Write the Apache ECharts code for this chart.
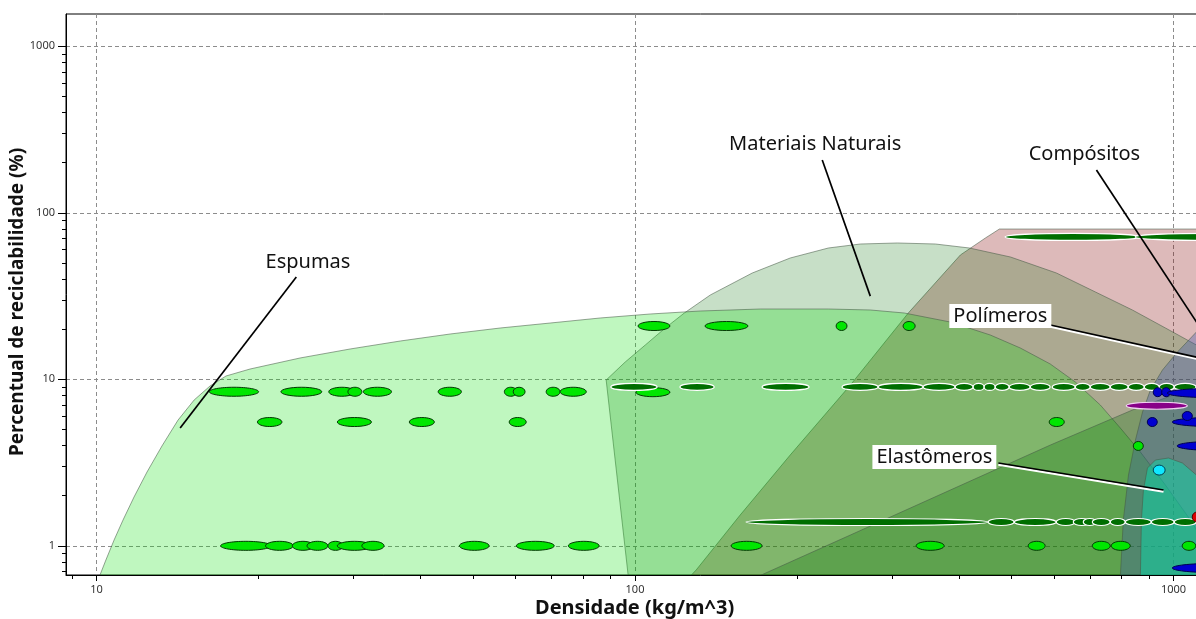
<!DOCTYPE html>
<html>
<head>
<meta charset="utf-8">
<script src="https://cdn.jsdelivr.net/npm/echarts@6/dist/echarts.min.js"></script>
<style>
  html, body { margin: 0; padding: 0; background: #fff; overflow: hidden; width: 1196px; height: 619px; }
  /* the plot area runs on past the right edge of the window */
  #chart { width: 1335px; height: 619px; }
</style>
</head>
<body>
<div id="chart"></div>
<script>
// ---- Axis ranges and ticks (density in kg/m^3, recyclability in %) ----
const densityMin = 8.777;
const densityMax = 1995;
const percentMin = 0.668;
const percentMax = 1563;
const densityTicks = [10, 100, 1000];
const densityMinorTicks = [9, 20, 30, 40, 50, 60, 70, 80, 90, 200, 300, 400, 500, 600, 700, 800, 900];
const percentTicks = [1, 10, 100, 1000];
const percentMinorTicks = [0.7, 0.8, 0.9, 2, 3, 4, 5, 6, 7, 8, 9, 20, 30, 40, 50, 60, 70, 80, 90, 200, 300, 400, 500, 600, 700, 800, 900];

// ---- Family envelopes: outline points [density, percent] ----
const compositosEnvelope = [[117, 0.5], [129.9, 0.716], [156.8, 1.531], [194.2, 3.51], [251.2, 9.24], [321.8, 25.02],
  [402.0, 55.8], [447.5, 70.6], [475.0, 79.9], [2132, 79.9], [2132, 0.5]];
const naturaisEnvelope = [[97.1, 0.5], [97.1, 0.668], [88.4, 9.9], [95.9, 12.7], [104.5, 16.07], [113.8, 20.33],
  [123.5, 25.02], [138.0, 32.09], [165.1, 43.49], [194.2, 53.52], [228.6, 61.46], [262.1, 64.95], [307.1, 65.87],
  [361.3, 64.95], [417.8, 61.46], [498.1, 54.27], [606.3, 43.49], [716.2, 33.45], [838.9, 26.08], [966.3, 20.33],
  [1103, 16.07], [1332, 11.69], [1580, 7.51], [1875, 0.5]];
const espumasEnvelope = [[9.8, 0.5], [10.15, 0.668], [10.41, 0.822], [10.78, 1.083], [11.2, 1.428], [11.74, 1.964],
  [12.41, 2.775], [13.23, 3.977], [14.17, 5.69], [15.18, 7.51], [16.25, 9.12], [17.4, 10.47], [19.28, 11.53],
  [23.88, 13.43], [29.58, 15.21], [36.64, 16.98], [45.37, 18.71], [56.18, 20.33], [69.58, 21.78], [86.16, 23.35],
  [106.7, 24.67], [132.2, 25.72], [170.9, 26.44], [228.6, 26.44], [273.5, 26.08], [316.2, 25.02], [384.9, 22.09],
  [456.8, 18.46], [519.4, 15.42], [590.4, 12.36], [657.3, 9.63], [731.3, 7.01], [796.6, 5.1], [867.9, 3.66],
  [965.8, 2.32], [1075, 1.43], [1196, 0.822], [1303, 0.5]];
const lowerGreenEnvelope = [[160.2, 0.5], [171.6, 0.668], [251.2, 1.161], [385.1, 2.163], [590.7, 4.03],
  [838.9, 6.54], [1122, 9.24], [2132, 9.24], [2132, 0.5]];
const polimerosEnvelope = [[2132, 23.35], [1276, 23.35], [1103, 19.24], [1017, 14.59], [954, 11.37], [906, 8.62],
  [876, 6.36], [850, 4.32], [825, 2.66], [807, 1.43], [797, 0.668], [794, 0.5], [2132, 0.5]];
const elastomerosEnvelope = [[868.1, 0.5], [868.1, 0.668], [871.9, 1.43], [879.4, 2.163], [894.7, 2.934],
  [925.7, 3.276], [978.8, 3.368], [1039, 3.143], [1103, 2.662], [1276, 1.758], [2132, 0.5]];

// ---- Materials: [density low, density high, recyclability %] ----
const espumas = [
  [16.2, 20.0, 8.42], [22.0, 26.2, 8.42], [27.0, 30.2, 8.42], [29.3, 31.1, 8.42], [31.3, 35.3, 8.42],
  [43.1, 47.6, 8.42], [57.2, 60.4, 8.42], [59.4, 62.5, 8.42], [68.4, 72.6, 8.42], [72.6, 81.2, 8.42],
  [19.9, 22.1, 5.54], [28.0, 32.4, 5.54], [38.1, 42.4, 5.54], [58.4, 62.8, 5.54], [587.8, 626.8, 5.54],
  [17.0, 21.1, 1.0], [20.6, 23.2, 1.0], [23.1, 25.3, 1.0], [24.6, 26.9, 1.0], [26.9, 28.7, 1.0],
  [28.0, 32.4, 1.0], [31.1, 34.2, 1.0], [47.2, 53.6, 1.0], [60.2, 70.8, 1.0], [75.2, 85.8, 1.0],
  [150.8, 172.2, 1.0], [332.7, 375.1, 1.0], [537.2, 577.7, 1.0], [706.6, 763.0, 1.0], [766.3, 831.2, 1.0],
  [1038, 1100, 1.0],
  [101.3, 116.1, 20.9], [134.9, 162.1, 20.9], [236.3, 247.6, 20.9], [314.7, 331.3, 20.9],
  [100.4, 116.1, 8.37], [842, 879, 3.98]
];
const naturais = [
  [90.2, 109.9, 9.0], [121.2, 140.3, 9.0], [172.2, 210.5, 9.0],
  [242.4, 282.8, 9.0], [282.8, 342.8, 9.0], [342.8, 393.0, 9.0], [393.0, 424.6, 9.0], [424.6, 445.0, 9.0],
  [445.0, 466.5, 9.0], [466.5, 495.3, 9.0], [495.3, 541.9, 9.0], [541.9, 590.3, 9.0], [595.4, 657.0, 9.0],
  [657.0, 700.4, 9.0], [700.4, 763.0, 9.0], [763.0, 824.0, 9.0], [824.0, 882.5, 9.0], [882.5, 941.0, 9.0],
  [941.0, 1003, 9.0], [1003, 1102, 9.0], [1102, 1250, 9.0],
  [160.8, 452.7, 1.39], [452.7, 506.0, 1.39], [506.0, 605.7, 1.39], [605.7, 657.0, 1.39], [651.4, 700.0, 1.39],
  [679.9, 718.6, 1.39], [706.6, 763.0, 1.39], [763.0, 813.7, 1.39], [813.7, 909.5, 1.39], [909.5, 1003, 1.39],
  [1003, 1102, 1.39], [1102, 1250, 1.39]
];
const compositos = [[486.9, 867.6, 71.6], [849, 1600, 71.6]];
const polimeros = [
  [917, 953, 8.37], [953, 986, 8.37], [974, 1400, 8.27],
  [894, 933, 5.54], [995, 1400, 5.54], [1038, 1084, 6.02],
  [1016, 1400, 3.98], [995, 1400, 0.736]
];
const elastomeros = [[917, 965, 2.85]];
const outrosRoxo = [[817, 1061, 6.94]];
const outrosVermelho = [[1084, 1130, 1.49]];

// ---- Family labels with leader lines (data coordinates) ----
const annotations = [
  { text: 'Espumas', label: [24.7, 50.6], from: [23.5, 41.2], to: [14.3, 5.1], boxed: false },
  { text: 'Materiais Naturais', label: [216.1, 259], from: [222.7, 207.6], to: [273.5, 31.6], boxed: false },
  { text: 'Compósitos', label: [683.4, 225.5], from: [719.3, 180.8], to: [1171, 16.5], boxed: false },
  { text: 'Polímeros', label: [476.9, 24.0], from: [590.7, 21.2], to: [1103, 13.6], boxed: true },
  { text: 'Elastômeros', label: [359.7, 3.415], from: [472.9, 3.143], to: [958.3, 2.163], boxed: true }
];

const FONT = '"Noto Sans", "DejaVu Sans", sans-serif';

function envelopeSeries(name, pts, fill) {
  return {
    type: 'custom', name, clip: true, silent: true,
    data: [[100, 10]],
    renderItem(params, api) {
      const points = pts.map(p => api.coord(p));
      return {
        type: 'polygon',
        shape: { points },
        style: { fill, stroke: 'rgba(70,90,70,0.55)', lineWidth: 1 }
      };
    }
  };
}

function markerSeries(name, items, fill, stroke, lineWidth, h) {
  return {
    type: 'custom', name, clip: true, silent: true,
    data: items,
    encode: { x: [0, 1], y: 2 },
    renderItem(params, api) {
      const v = api.value(2);
      const a = api.coord([api.value(0), v]);
      const b = api.coord([api.value(1), v]);
      const rx = Math.max((b[0] - a[0]) / 2, h / 2);
      return {
        type: 'ellipse',
        shape: { cx: (a[0] + b[0]) / 2, cy: a[1], rx, ry: h / 2 },
        style: { fill, stroke, lineWidth }
      };
    }
  };
}

const annotationSeries = {
  type: 'custom', name: 'rotulos', clip: false, silent: true, z: 10,
  data: [[100, 10]],
  renderItem(params, api) {
    const children = [];
    annotations.forEach(a => {
      const p0 = api.coord(a.from), p1 = api.coord(a.to), t = api.coord(a.label);
      if (a.boxed) {
        children.push({ type: 'line', shape: { x1: p0[0], y1: p0[1] + 1.6, x2: p1[0], y2: p1[1] + 1.6 },
          style: { stroke: '#ffffff', lineWidth: 2.4 } });
      }
      children.push({ type: 'line', shape: { x1: p0[0], y1: p0[1], x2: p1[0], y2: p1[1] },
        style: { stroke: '#000000', lineWidth: 1.7 } });
      children.push({ type: 'text', x: t[0], y: t[1],
        style: { text: a.text, fill: '#111', fontSize: 20, fontFamily: FONT, align: 'center', verticalAlign: 'middle',
          backgroundColor: a.boxed ? '#ffffff' : 'transparent', padding: a.boxed ? [2, 4] : 0 } });
    });
    return { type: 'group', children };
  }
};

const tickLabel = { color: '#333', fontSize: 11, fontFamily: FONT, formatter: v => String(Math.round(v * 1000) / 1000) };
const gridLine = { show: true, lineStyle: { type: [4, 3], color: '#8c8c8c', width: 1 } };

const chart = echarts.init(document.getElementById('chart'));
chart.setOption({
  animation: false,
  backgroundColor: '#ffffff',
  grid: { left: 66, top: 14, bottom: 44, right: 0, show: true, borderColor: '#000', borderWidth: 1 },
  xAxis: [
    { type: 'log', logBase: 10, min: densityMin, max: densityMax, position: 'bottom',
      axisLine: { show: true, onZero: false, lineStyle: { color: '#000', width: 1 } },
      axisTick: { show: true, length: 6, customValues: densityTicks, lineStyle: { color: '#000' } },
      axisLabel: Object.assign({ customValues: densityTicks, margin: 9 }, tickLabel),
      splitLine: gridLine },
    { type: 'log', logBase: 10, min: densityMin, max: densityMax, position: 'bottom',
      axisLine: { show: false }, axisLabel: { show: false }, splitLine: { show: false },
      axisTick: { show: true, length: 4, customValues: densityMinorTicks, lineStyle: { color: '#000' } } }
  ],
  yAxis: [
    { type: 'log', logBase: 10, min: percentMin, max: percentMax, position: 'left',
      axisLine: { show: true, onZero: false, lineStyle: { color: '#000', width: 1 } },
      axisTick: { show: true, length: 8, customValues: percentTicks, lineStyle: { color: '#000' } },
      axisLabel: Object.assign({ customValues: percentTicks, margin: 11 }, tickLabel),
      splitLine: gridLine },
    { type: 'log', logBase: 10, min: percentMin, max: percentMax, position: 'left',
      axisLine: { show: false }, axisLabel: { show: false }, splitLine: { show: false },
      axisTick: { show: true, length: 4, customValues: percentMinorTicks, lineStyle: { color: '#000' } } }
  ],
  series: [
    envelopeSeries('Compósitos', compositosEnvelope, 'rgba(128,0,0,0.27)'),
    envelopeSeries('Materiais Naturais', naturaisEnvelope, 'rgba(0,110,0,0.22)'),
    envelopeSeries('Espumas', espumasEnvelope, 'rgba(0,223,0,0.25)'),
    envelopeSeries('Naturais densos', lowerGreenEnvelope, 'rgba(0,110,0,0.27)'),
    envelopeSeries('Polímeros', polimerosEnvelope, 'rgba(60,85,170,0.34)'),
    envelopeSeries('Elastômeros', elastomerosEnvelope, 'rgba(0,225,175,0.45)'),
    markerSeries('Espumas dados', espumas, '#00e600', '#063806', 1, 9),
    markerSeries('Naturais dados', naturais, '#006e00', '#ffffff', 1.2, 7),
    markerSeries('Compósitos dados', compositos, '#006e00', '#ffffff', 1.2, 7),
    markerSeries('Polímeros dados', polimeros, '#0000d0', '#000050', 1, 9),
    markerSeries('Elastômeros dados', elastomeros, '#10e8ff', '#004050', 1, 10),
    markerSeries('Roxo', outrosRoxo, '#880088', '#f0d0f0', 1.2, 7),
    markerSeries('Vermelho', outrosVermelho, '#dd0000', '#500000', 1, 10),
    annotationSeries
  ],
  graphic: [
    { type: 'text', x: 535, y: 608, silent: true,
      style: { text: 'Densidade (kg/m^3)', fill: '#111', fontSize: 20, fontWeight: 'bold', fontFamily: FONT,
        align: 'left', verticalAlign: 'middle' } },
    { type: 'text', x: 18, y: 302, rotation: Math.PI / 2, silent: true,
      style: { text: 'Percentual de reciclabilidade (%)', fill: '#111', fontSize: 19, fontWeight: 'bold',
        fontFamily: FONT, align: 'center', verticalAlign: 'middle' } }
  ]
});
</script>
</body>
</html>
